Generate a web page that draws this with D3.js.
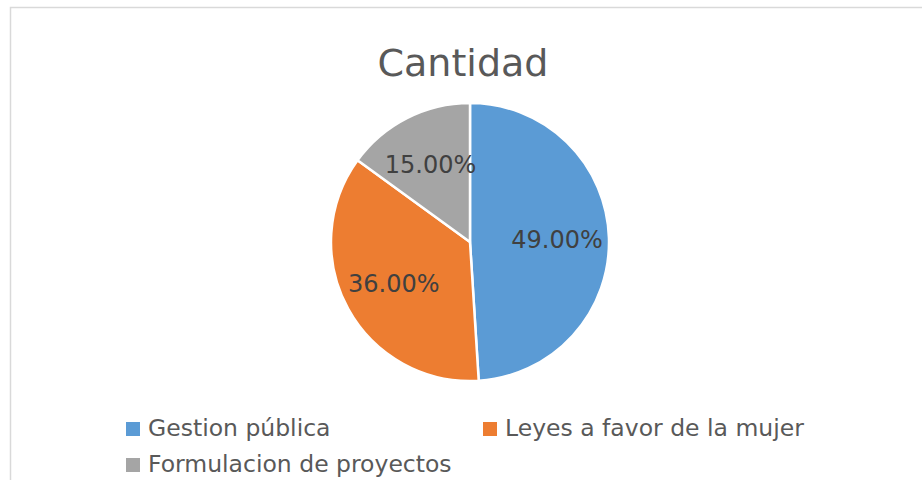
<!DOCTYPE html>
<html>
<head>
<meta charset="utf-8">
<script src="https://cdn.jsdelivr.net/npm/d3@7"></script>
<style>
  body { margin: 0; background: #fff; }
  svg { display: block; font-family: "DejaVu Sans", sans-serif; }
</style>
</head>
<body>
<div id="chart"></div>
<script>
/* Cantidad - pie chart */

const categories = ["Gestion pública", "Leyes a favor de la mujer", "Formulacion de proyectos"];
const values = [49, 36, 15];
const colors = ["#5b9bd5", "#ed7d31", "#a5a5a5"];
const title = "Cantidad";

const width = 922,
  height = 480,
  cx = 470,
  cy = 242,
  radius = 139,
  labelRadius = 87;

const data = categories.map((c, i) => ({ name: c, value: values[i], color: colors[i] }));
const total = d3.sum(values);

const svg = d3.select("#chart")
  .append("svg")
  .attr("width", width)
  .attr("height", height);

// chart frame
svg.append("rect")
  .attr("x", 10.5)
  .attr("y", 7.5)
  .attr("width", width + 20)
  .attr("height", height + 20)
  .attr("fill", "#fff")
  .attr("stroke", "#d9d9d9")
  .attr("stroke-width", 1.5);

svg.append("text")
  .text(title)
  .attr("x", 463)
  .attr("y", 76)
  .attr("text-anchor", "middle")
  .attr("font-size", 38)
  .attr("fill", "#595959");

const arcs = d3.pie().value(d => d.value).sort(null)(data);
const arc = d3.arc().innerRadius(0).outerRadius(radius);
const arcLabel = d3.arc().innerRadius(labelRadius).outerRadius(labelRadius);

const g = svg.append("g").attr("transform", `translate(${cx},${cy})`);

g.append("g")
  .attr("stroke", "white")
  .attr("stroke-width", 2.5)
  .attr("stroke-linejoin", "round")
  .selectAll("path")
  .data(arcs)
  .join("path")
  .attr("fill", d => d.data.color)
  .attr("d", arc);

g.append("g")
  .selectAll("text")
  .data(arcs)
  .join("text")
  .attr("transform", d => `translate(${arcLabel.centroid(d)})`)
  .attr("text-anchor", "middle")
  .attr("dy", "0.35em")
  .attr("font-size", 24)
  .attr("fill", "#404040")
  .text(d => d3.format(".2f")(d.data.value / total * 100) + "%");

// legend
const legendX = [126, 483, 126],
  legendY = [436, 436, 472];

const legend = svg.append("g")
  .selectAll("g")
  .data(data)
  .join("g")
  .attr("transform", (d, i) => `translate(${legendX[i]},${legendY[i]})`);

legend.append("rect")
  .attr("x", 0)
  .attr("y", -14)
  .attr("width", 14)
  .attr("height", 14)
  .attr("fill", d => d.color);

legend.append("text")
  .attr("x", 22)
  .attr("y", 0)
  .attr("font-size", 23.5)
  .attr("fill", "#595959")
  .text(d => d.name);
</script>
</body>
</html>
